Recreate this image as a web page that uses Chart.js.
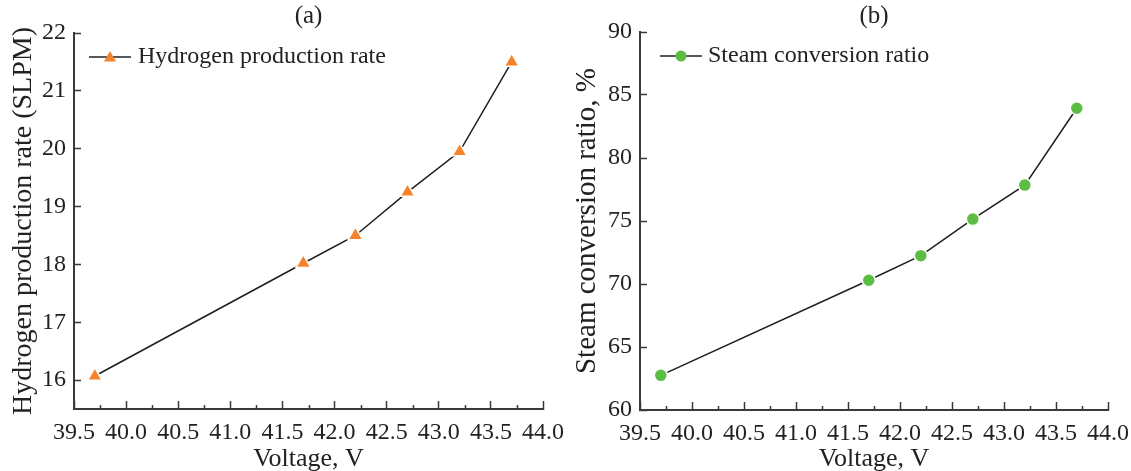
<!DOCTYPE html>
<html>
<head>
<meta charset="utf-8">
<script src="https://cdn.jsdelivr.net/npm/chart.js@4.4.1/dist/chart.umd.min.js"></script>
<style>
  html, body { margin: 0; padding: 0; background: #fff; overflow: hidden; }
  .panel { position: absolute; top: 0; }
</style>
</head>
<body>
<div class="panel" style="left:0px"><canvas id="ca" width="566" height="471"></canvas></div>
<div class="panel" style="left:566px"><canvas id="cb" width="565" height="471"></canvas></div>
<script>
// ---- data ----
const voltage = [39.7, 41.7, 42.2, 42.7, 43.2, 43.7];
const hydrogenRate = [16.07, 18.02, 18.5, 19.25, 19.95, 21.5];
const steamConversion = [62.75, 70.3, 72.25, 75.15, 77.85, 83.95];
const panelTitles = ['(a)', '(b)'];
const seriesNames = ['Hydrogen production rate', 'Steam conversion ratio'];
const yTitles = ['Hydrogen production rate (SLPM)', 'Steam conversion ratio, %'];
const xTitle = 'Voltage, V';
const xRange = [39.5, 44.0];
const yRangeA = [15.5, 22];
const yRangeB = [60, 90];

Chart.defaults.font.family = "'Liberation Serif', 'Times New Roman', serif";
Chart.defaults.color = '#222';

const AXIS = '#3a3a3a';

function makePoints(xs, ys) { return xs.map((x, i) => ({ x: x, y: ys[i] })); }

function drawMarker(ctx, style, color, x, y, r) {
  ctx.save();
  ctx.fillStyle = color;
  ctx.beginPath();
  if (style === 'triangle') {
    ctx.moveTo(x, y - r);
    ctx.lineTo(x + r * 0.866, y + r * 0.5);
    ctx.lineTo(x - r * 0.866, y + r * 0.5);
    ctx.closePath();
  } else {
    ctx.arc(x, y, r, 0, Math.PI * 2);
  }
  ctx.fill();
  ctx.restore();
}

function panelPlugin(cfg) {
  return {
    id: 'panelDeco' + cfg.title,
    afterDraw(chart) {
      const ctx = chart.ctx;
      const ca = chart.chartArea;
      const xs = chart.scales.x;
      // minor ticks on x axis
      ctx.save();
      ctx.strokeStyle = AXIS;
      ctx.lineWidth = 1.5;
      for (let v = xs.min + 0.25; v < xs.max; v += 0.5) {
        const px = Math.round(xs.getPixelForValue(v)) + 0.5;
        ctx.beginPath();
        ctx.moveTo(px, ca.bottom);
        ctx.lineTo(px, ca.bottom - 4);
        ctx.stroke();
      }
      ctx.restore();
      // panel title
      ctx.save();
      ctx.fillStyle = '#222';
      ctx.font = "25px 'Liberation Serif'";
      ctx.textAlign = 'center';
      ctx.textBaseline = 'middle';
      ctx.fillText(cfg.title, (ca.left + ca.right) / 2, 16);
      ctx.restore();
      // legend
      const ly = ca.top + 24;
      ctx.save();
      ctx.strokeStyle = '#222';
      ctx.lineWidth = 1.5;
      ctx.beginPath();
      ctx.moveTo(ca.left + cfg.lx1, ly);
      ctx.lineTo(ca.left + cfg.lx2, ly);
      ctx.stroke();
      ctx.restore();
      drawMarker(ctx, cfg.style, cfg.color, ca.left + (cfg.lx1 + cfg.lx2) / 2, ly + (cfg.style === 'triangle' ? 1 : 0), cfg.style === 'triangle' ? 7 : 5.5);
      ctx.save();
      ctx.fillStyle = '#222';
      ctx.font = "24px 'Liberation Serif'";
      ctx.textAlign = 'left';
      ctx.textBaseline = 'middle';
      ctx.fillText(cfg.name, ca.left + cfg.tx, ly);
      ctx.restore();
    }
  };
}

function makeChart(id, values, yRange, yStep, yTitle, style, color, deco, yTitlePad, xHeight, topPad, yTitleSize) {
  return new Chart(document.getElementById(id), {
    type: 'line',
    data: {
      datasets: [{
        data: makePoints(voltage, values),
        borderColor: '#1e1e1e',
        borderWidth: 1.5,
        pointStyle: style,
        pointRadius: style === 'triangle' ? 8.5 : 6.5,
        pointBackgroundColor: color,
        pointBorderColor: '#ffffff',
        pointBorderWidth: 1.5,
        tension: 0,
        fill: false
      }]
    },
    options: {
      responsive: false,
      animation: false,
      devicePixelRatio: 1,
      layout: { padding: { left: 0, right: 23, top: topPad, bottom: 0 } },
      plugins: { legend: { display: false }, title: { display: false }, tooltip: { enabled: false } },
      scales: {
        x: {
          type: 'linear',
          min: xRange[0],
          max: xRange[1],
          afterFit: s => { s.height = xHeight; s.paddingRight = 0; s.paddingLeft = 0; },
          ticks: {
            stepSize: 0.5,
            autoSkip: false,
            maxRotation: 0,
            padding: 20,
            color: '#222',
            font: { size: 24, lineHeight: 1 },
            callback: v => Number(v).toFixed(1)
          },
          grid: { drawOnChartArea: false, drawTicks: true, tickLength: -8, tickColor: AXIS, tickWidth: 1.5 },
          border: { display: true, color: AXIS, width: 2 },
          title: { display: true, text: xTitle, color: '#222', font: { size: 26, lineHeight: 1 }, padding: { top: 0, bottom: -1 } }
        },
        y: {
          type: 'linear',
          min: yRange[0],
          max: yRange[1],
          afterFit: s => { s.width = 74; },
          afterBuildTicks: s => { s.ticks = s.ticks.filter(t => Math.abs(t.value / yStep - Math.round(t.value / yStep)) < 1e-6); },
          ticks: {
            stepSize: yStep,
            autoSkip: false,
            padding: 15,
            color: '#222',
            font: { size: 24, lineHeight: 1 }
          },
          grid: { drawOnChartArea: false, drawTicks: true, tickLength: -7, tickColor: AXIS, tickWidth: 1.5 },
          border: { display: true, color: AXIS, width: 2 },
          title: { display: true, text: yTitle, color: '#222', font: { size: yTitleSize, lineHeight: 1 }, padding: { top: yTitlePad, bottom: 0 } }
        }
      }
    },
    plugins: [panelPlugin(deco)]
  });
}

makeChart('ca', hydrogenRate, yRangeA, 1, yTitles[0], 'triangle', '#F4832B',
  { title: panelTitles[0], name: seriesNames[0], style: 'triangle', color: '#F4832B', lx1: 15, lx2: 57, tx: 64 }, 10, 62, 33, 28);
makeChart('cb', steamConversion, yRangeB, 5, yTitles[1], 'circle', '#5CBD45',
  { title: panelTitles[1], name: seriesNames[1], style: 'circle', color: '#5CBD45', lx1: 20, lx2: 62, tx: 68 }, 7, 61, 32, 29);
</script>
</body>
</html>
